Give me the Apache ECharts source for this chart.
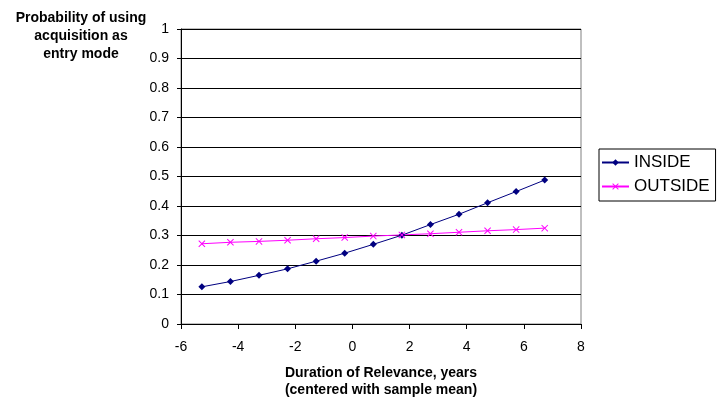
<!DOCTYPE html>
<html>
<head>
<meta charset="utf-8">
<script src="https://cdn.jsdelivr.net/npm/echarts@6/dist/echarts.min.js"></script>
<style>
html,body{margin:0;padding:0;background:#fff;}
#chart{width:719px;height:401px;}
</style>
</head>
<body>
<div id="chart"></div>
<script>
const xValues = [-5.27, -4.27, -3.27, -2.27, -1.27, -0.27, 0.73, 1.73, 2.73, 3.73, 4.73, 5.73, 6.73];
const insideValues = [0.126, 0.144, 0.165, 0.187, 0.213, 0.240, 0.270, 0.301, 0.337, 0.372, 0.411, 0.449, 0.488];
const outsideValues = [0.272, 0.277, 0.280, 0.284, 0.289, 0.293, 0.298, 0.302, 0.306, 0.311, 0.316, 0.320, 0.325];
const xTicks = { min: -6, max: 8, interval: 2 };
const yTicks = { min: 0, max: 1, interval: 0.1 };
const yTitle = 'Probability of using\nacquisition as\nentry mode';
const xTitle = 'Duration of Relevance, years\n(centered with sample mean)';

const font = 'Liberation Sans, Arial, sans-serif';
const xShape = 'path://M0,1L1,0L5,4L9,0L10,1L6,5L10,9L9,10L5,6L1,10L0,9L4,5Z';

const chart = echarts.init(document.getElementById('chart'));
chart.setOption({
  animation: false,
  backgroundColor: '#fff',
  title: {
    text: yTitle,
    left: 76,
    top: 4,
    textAlign: 'center',
    textStyle: { fontFamily: font, fontSize: 14, fontWeight: 'bold', color: '#000', lineHeight: 18 }
  },
  grid: { left: 181, right: 138, top: 29, bottom: 77, outerBoundsMode: 'none', containLabel: false, show: true, borderColor: '#808080', borderWidth: 1, backgroundColor: 'transparent' },
  legend: {
    orient: 'vertical',
    left: 599,
    top: 149,
    width: 117,
    padding: [5, 6, 6, 2],
    itemGap: 7,
    itemWidth: 27,
    itemHeight: 8,
    borderColor: '#000',
    borderWidth: 1,
    textStyle: { fontFamily: font, fontSize: 17, color: '#000' },
    data: [
      { name: 'INSIDE', itemStyle: { color: '#000080' } },
      { name: 'OUTSIDE', itemStyle: { color: '#FF00FF' } }
    ]
  },
  xAxis: {
    type: 'value',
    min: xTicks.min, max: xTicks.max, interval: xTicks.interval,
    name: xTitle,
    nameLocation: 'middle',
    nameGap: 40,
    nameTextStyle: { fontFamily: font, fontSize: 14, fontWeight: 'bold', color: '#000', lineHeight: 17.5 },
    axisLine: { onZero: false, lineStyle: { color: '#000', width: 1 } },
    axisTick: { show: true, length: 5, lineStyle: { color: '#000' } },
    axisLabel: { fontFamily: font, fontSize: 14, color: '#000', margin: 16 },
    splitLine: { show: false }
  },
  yAxis: {
    type: 'value',
    min: yTicks.min, max: yTicks.max, interval: yTicks.interval,
    axisLine: { show: true, onZero: false, lineStyle: { color: '#000', width: 1 } },
    axisTick: { show: true, length: 4, lineStyle: { color: '#000' } },
    axisLabel: { fontFamily: font, fontSize: 14, color: '#000', margin: 12 },
    splitLine: { show: true, lineStyle: { color: '#000', width: 1 } }
  },
  series: [
    {
      name: 'INSIDE',
      type: 'line',
      data: xValues.map((x, i) => [x, insideValues[i]]),
      symbol: 'diamond',
      symbolSize: 7,
      showAllSymbol: true,
      lineStyle: { color: '#000080', width: 1 },
      itemStyle: { color: '#000080' }
    },
    {
      name: 'OUTSIDE',
      type: 'line',
      data: xValues.map((x, i) => [x, outsideValues[i]]),
      symbol: xShape,
      symbolSize: 7,
      showAllSymbol: true,
      lineStyle: { color: '#FF00FF', width: 1 },
      itemStyle: { color: '#FF00FF' }
    }
  ]
});
</script>
</body>
</html>
